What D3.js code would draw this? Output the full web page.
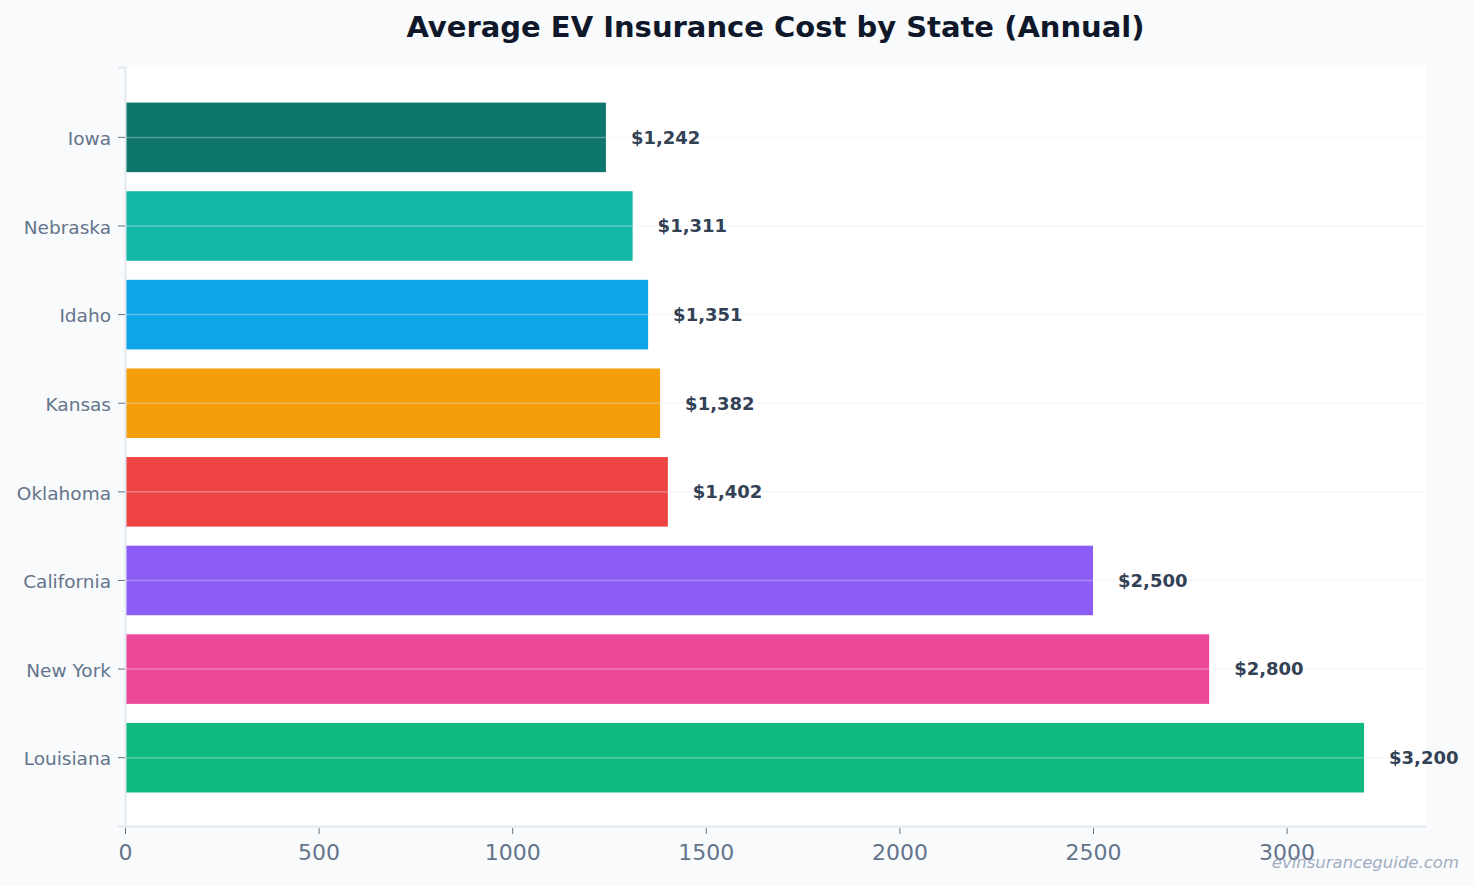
<!DOCTYPE html>
<head>
    <meta charset="utf-8">
    <script src="https://d3js.org/d3.v7.min.js"></script>
    <style>
        body {
            margin: 0;
            background: #f8fafc;
            font-family: "DejaVu Sans", sans-serif;
        }
    </style>
</head>

<body>
<svg id="chart" width="1475" height="886"></svg>
<script>

    const states = ["Iowa", "Nebraska", "Idaho", "Kansas", "Oklahoma", "California", "New York", "Louisiana"];
    const costs = [1242, 1311, 1351, 1382, 1402, 2500, 2800, 3200];
    const barColors = ["#0f766e", "#14b8a6", "#0ea5e9", "#f59e0b", "#ef4444", "#8b5cf6", "#ec4899", "#10b981"];
    const xTicks = [0, 500, 1000, 1500, 2000, 2500, 3000];

    const margin = {top: 67, right: 49, bottom: 60, left: 125};
    const W = 1475, H = 886;

    const svg = d3.select("#chart");

    svg.append("rect")
        .attr("width", W).attr("height", H)
        .attr("fill", "#f8fafc");

    const x = d3.scaleLinear()
        .domain([0, d3.max(costs) * 1.05])
        .range([margin.left, W - margin.right]);

    const y = d3.scaleBand()
        .domain(states)
        .range([margin.top, H - margin.bottom])
        .paddingInner(0.215)
        .paddingOuter(0.39)
        .align(0.515);

    // plot background
    svg.append("rect")
        .attr("x", margin.left)
        .attr("y", margin.top)
        .attr("width", x.range()[1] - margin.left)
        .attr("height", H - margin.bottom - margin.top)
        .attr("fill", "#ffffff");

    svg.selectAll("rect.bar")
        .data(states)
        .enter()
        .append("rect")
        .attr("class", "bar")
        .attr("x", x(0))
        .attr("y", d => y(d))
        .attr("width", (d, i) => x(costs[i]) - x(0))
        .attr("height", y.bandwidth())
        .attr("fill", (d, i) => barColors[i]);

    // horizontal grid lines, drawn over the bars
    svg.selectAll("line.grid")
        .data(states)
        .enter()
        .append("line")
        .attr("class", "grid")
        .attr("x1", margin.left)
        .attr("x2", x.range()[1])
        .attr("y1", d => y(d) + y.bandwidth() / 2)
        .attr("y2", d => y(d) + y.bandwidth() / 2)
        .attr("stroke", "#e2e8f0")
        .attr("stroke-opacity", 0.35)
        .attr("stroke-width", 1.5);

    svg.selectAll("text.value")
        .data(states)
        .enter()
        .append("text")
        .attr("class", "value")
        .attr("x", (d, i) => x(costs[i]) + 25)
        .attr("y", d => y(d) + y.bandwidth() / 2)
        .attr("dy", "0.35em")
        .attr("font-size", 18)
        .attr("font-weight", "bold")
        .attr("fill", "#334155")
        .text((d, i) => "$" + d3.format(",")(costs[i]));

    // y axis
    const yAxis = svg.append("g")
        .attr("transform", "translate(" + margin.left + ",0)")
        .call(d3.axisLeft(y).tickSize(7).tickPadding(7));
    yAxis.select(".domain").attr("stroke", "#e2e8f0").attr("stroke-width", 2);
    yAxis.selectAll(".tick line").attr("stroke", "#64748b");
    yAxis.selectAll(".tick text")
        .attr("font-size", 18.5)
        .attr("font-family", "DejaVu Sans")
        .attr("dy", "0.42em")
        .attr("fill", "#64748b");

    // x axis
    const xAxis = svg.append("g")
        .attr("transform", "translate(0," + (H - margin.bottom) + ")")
        .call(d3.axisBottom(x).tickValues(xTicks).tickFormat(d3.format("d"))
            .tickSize(8).tickSizeOuter(0).tickPadding(10));
    xAxis.select(".domain").attr("stroke", "#e2e8f0").attr("stroke-width", 2);
    xAxis.selectAll(".tick line").attr("stroke", "#64748b").attr("y1", 2);
    xAxis.selectAll(".tick text")
        .attr("font-size", 22)
        .attr("font-family", "DejaVu Sans")
        .attr("fill", "#64748b");

    svg.append("text")
        .attr("x", (margin.left + x.range()[1]) / 2)
        .attr("y", 37)
        .attr("text-anchor", "middle")
        .attr("font-size", 29)
        .attr("font-weight", "bold")
        .attr("fill", "#0f172a")
        .text("Average EV Insurance Cost by State (Annual)");

    svg.append("text")
        .attr("x", 1459)
        .attr("y", 868)
        .attr("text-anchor", "end")
        .attr("font-size", 16.5)
        .attr("font-style", "italic")
        .attr("fill", "#94a3b8")
        .attr("fill-opacity", 0.9)
        .text("evinsuranceguide.com");

</script>

</body>
